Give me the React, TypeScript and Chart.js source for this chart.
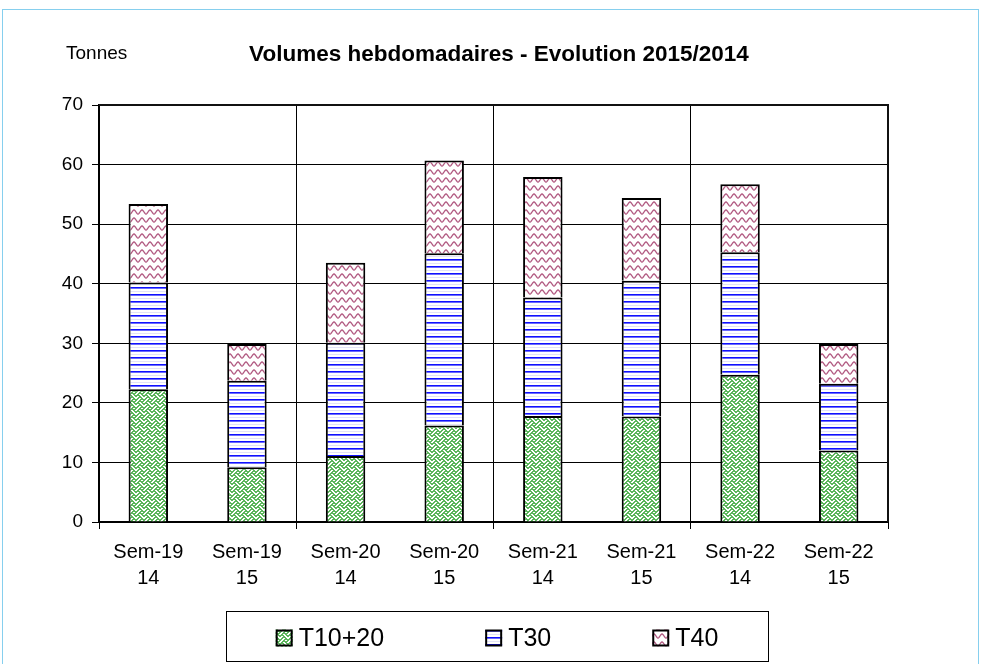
import React, { useEffect, useRef } from 'react';
import { Chart, registerables } from 'chart.js';

Chart.register(...registerables);

// ---------- data ----------
const weeks = ['Sem-19', 'Sem-19', 'Sem-20', 'Sem-20', 'Sem-21', 'Sem-21', 'Sem-22', 'Sem-22'];
const years = ['14', '15', '14', '15', '14', '15', '14', '15'];
const t1020 = [22.3, 9.2, 11.1, 16.2, 17.8, 17.7, 24.7, 12.0];
const t30 = [17.9, 14.5, 19.0, 28.9, 19.9, 22.8, 20.6, 11.2];
const t40 = [13.2, 6.2, 13.4, 15.6, 20.2, 13.9, 11.4, 6.7];
const seriesNames = ['T10+20', 'T30', 'T40'];
const yMin = 0;
const yMax = 70;
const yStep = 10;
const titleText = 'Volumes hebdomadaires - Evolution 2015/2014';
const unitText = 'Tonnes';

const FONT = '"Liberation Sans", Arial, sans-serif';

// ---------- patterns ----------
function tile(w: number, h: number, draw: (ctx: CanvasRenderingContext2D) => void): CanvasPattern {
  const c = document.createElement('canvas');
  c.width = w;
  c.height = h;
  const ctx = c.getContext('2d')!;
  ctx.fillStyle = '#ffffff';
  ctx.fillRect(0, 0, w, h);
  draw(ctx);
  const out = document.createElement('canvas').getContext('2d')!;
  return out.createPattern(c, 'repeat')!;
}

function weavePattern(): CanvasPattern {
  const rows = [0x11, 0x2a, 0x44, 0xa2, 0x11, 0x28, 0x44, 0x8a];
  return tile(8, 8, (ctx) => {
    ctx.fillStyle = '#5cb65c';
    rows.forEach((r, y) => {
      for (let x = 0; x < 8; x++) {
        if (r & (0x80 >> x)) {
          ctx.fillRect(x, y, 1, 1);
          ctx.fillRect((x + 1) % 8, y, 1, 1);
        }
      }
    });
  });
}

function linesPattern(): CanvasPattern {
  return tile(8, 7, (ctx) => {
    ctx.fillStyle = '#1010ff';
    ctx.fillRect(0, 0, 8, 1);
    ctx.fillStyle = '#6a6aff';
    ctx.fillRect(0, 1, 8, 1);
    ctx.fillStyle = '#e2e2f8';
    ctx.fillRect(0, 4, 8, 1);
  });
}

function wavePattern(): CanvasPattern {
  return tile(8, 8, (ctx) => {
    ctx.strokeStyle = '#b0577f';
    ctx.lineWidth = 1.3;
    for (const off of [-8, 0, 8]) {
      ctx.beginPath();
      for (let x = -2; x <= 10; x += 0.5) {
        const y = 4 + off + 2 * Math.sin((2 * Math.PI * x) / 8);
        if (x === -2) ctx.moveTo(x, y);
        else ctx.lineTo(x, y);
      }
      ctx.stroke();
    }
  });
}

export default function App() {
  const ref = useRef<HTMLCanvasElement>(null);

  useEffect(() => {
    const canvas = ref.current!;
    const patterns = [weavePattern(), linesPattern(), wavePattern()];
    const seriesData = [t1020, t30, t40];

    const decor = {
      id: 'decor',
      afterDraw(chart: any) {
        const ctx: CanvasRenderingContext2D = chart.ctx;
        const a = chart.chartArea;
        ctx.save();
        // plot frame (top & right)
        ctx.strokeStyle = '#111';
        ctx.lineWidth = 2;
        ctx.beginPath();
        ctx.moveTo(a.left, a.top);
        ctx.lineTo(a.right, a.top);
        ctx.lineTo(a.right, a.bottom);
        ctx.stroke();

        // unit + title
        ctx.fillStyle = '#000';
        ctx.textBaseline = 'middle';
        ctx.textAlign = 'left';
        ctx.font = `19px ${FONT}`;
        ctx.fillText(unitText, 66, 54);
        ctx.textAlign = 'center';
        ctx.font = `bold 22.5px ${FONT}`;
        ctx.fillText(titleText, 499, 55);

        // legend box
        const bx = 226, by = 611, bw = 542, bh = 50;
        ctx.lineWidth = 1;
        ctx.strokeStyle = '#000';
        ctx.strokeRect(bx + 0.5, by + 0.5, bw, bh);
        ctx.font = `25px ${FONT}`;
        ctx.textAlign = 'left';
        const box = 17, gapText = 6, gapItem = 101;
        const widths = chart.data.datasets.map((d: any) => box + gapText + ctx.measureText(d.label).width);
        const total = widths.reduce((s: number, w: number) => s + w, 0) + gapItem * (widths.length - 1);
        let x = bx + bw / 2 - total / 2;
        const cy = 638;
        chart.data.datasets.forEach((d: any, i: number) => {
          ctx.fillStyle = d.backgroundColor;
          ctx.fillRect(x, cy - box / 2, box, box);
          ctx.lineWidth = 2;
          ctx.strokeStyle = '#000';
          ctx.strokeRect(x + 1, cy - box / 2 + 1, box - 2, box - 2);
          ctx.fillStyle = '#000';
          ctx.fillText(d.label, x + box + gapText, cy + 1);
          x += widths[i] + gapItem;
        });
        ctx.restore();
      },
    };

    const chart = new Chart(canvas, {
      type: 'bar',
      data: {
        labels: weeks.map((w, i) => [w, years[i]]),
        datasets: seriesNames.map((name, i) => ({
          label: name,
          data: seriesData[i],
          backgroundColor: patterns[i] as any,
          borderColor: '#000',
          borderWidth: 2,
          categoryPercentage: 1,
          barPercentage: 0.4,
        })),
      },
      options: {
        responsive: false,
        animation: false,
        layout: { padding: { left: 0, top: 105, right: 93, bottom: 62 } },
        plugins: {
          legend: { display: false },
          title: { display: false },
          tooltip: { enabled: false },
        },
        scales: {
          x: {
            stacked: true,
            grid: {
              offset: true,
              color: (c: any) => ((c.index ?? 0) % 2 === 0 ? '#000' : 'rgba(0,0,0,0)'),
              lineWidth: 1,
              tickLength: 7,
            },
            border: { color: '#000', width: 2 },
            ticks: {
              color: '#000',
              font: { family: FONT, size: 20, lineHeight: 1.3 },
              padding: 10,
              maxRotation: 0,
              autoSkip: false,
            },
            afterFit: (s: any) => {
              s.height = 80;
            },
          },
          y: {
            stacked: true,
            min: yMin,
            max: yMax,
            ticks: {
              stepSize: yStep,
              color: '#000',
              font: { family: FONT, size: 19 },
              padding: 9,
            },
            grid: { color: '#000', lineWidth: 1, tickLength: 7 },
            border: { color: '#000', width: 2 },
            afterFit: (s: any) => {
              s.width = 99;
            },
          },
        },
      },
      plugins: [decor],
    });
    return () => chart.destroy();
  }, []);

  return (
    <div style={{ position: 'fixed', left: 0, top: 0, width: 981, height: 664, overflow: 'hidden', background: '#fff' }}>
      <canvas ref={ref} width={981} height={664} style={{ position: 'absolute', left: 0, top: 0, display: 'block' }} />
      <div
        style={{
          position: 'absolute',
          left: 2,
          top: 9,
          width: 977,
          height: 670,
          border: '1px solid #86cfee',
          boxSizing: 'border-box',
          pointerEvents: 'none',
        }}
      />
    </div>
  );
}
